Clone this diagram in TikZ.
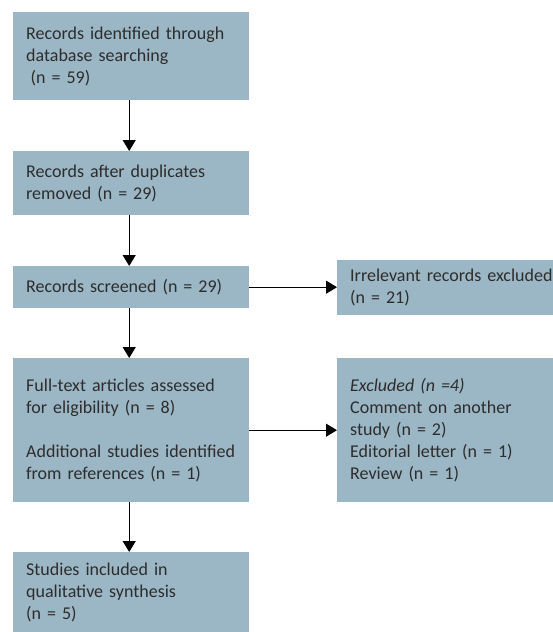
\documentclass[tikz,border=0pt]{standalone}
\usepackage{fontspec}
\setmainfont{Carlito}
\usetikzlibrary{arrows.meta,positioning}
\definecolor{BoxColor}{RGB}{155,182,196}
\definecolor{TextGray}{RGB}{45,45,45}
\tikzset{
  flowbox/.style={fill=BoxColor, text=TextGray, anchor=north west, align=left,
    inner xsep=13pt, inner ysep=0pt, font=\fontsize{18}{22}\selectfont},
  leftbox/.style={flowbox, text width=210pt},
  rightbox/.style={flowbox, text width=220pt},
  flowarrow/.style={-{Triangle[length=11pt,width=13pt]}, line width=1.2pt}
}
\begin{document}
\begin{tikzpicture}[x=1pt,y=-1pt]
        \useasboundingbox (0,0) rectangle (553,632);
        \node[leftbox, minimum height=88pt] (identified) at (13,12) {Records identified through\\database searching\\\hspace{0.25em}(n = 59)};
        \node[leftbox, minimum height=64pt] (duplicates) at (13,151) {Records after duplicates\\removed (n = 29)};
        \node[leftbox, minimum height=42pt] (screened) at (13,266) {Records screened (n = 29)};
        \node[leftbox, minimum height=144pt] (fulltext) at (13,358) {Full-text articles assessed\\for eligibility (n = 8)\\[22pt]Additional studies identified\\from references (n = 1)};
        \node[leftbox, minimum height=80pt] (included) at (13,552) {Studies included in\\qualitative synthesis\\(n = 5)};
        \node[rightbox, minimum height=55pt] (irrelevant) at (337,260) {Irrelevant records excluded\\(n = 21)};
        \node[rightbox, minimum height=144pt] (excluded) at (337,358) {\textit{Excluded (n =4)}\\Comment on another\\study (n = 2)\\Editorial letter (n = 1)\\Review (n = 1)};
        \draw[flowarrow] ([xshift=-2pt]identified.south) -- ([xshift=-2pt]duplicates.north);
        \draw[flowarrow] ([xshift=-2pt]duplicates.south) -- ([xshift=-2pt]screened.north);
        \draw[flowarrow] ([xshift=-2pt]screened.south) -- ([xshift=-2pt]fulltext.north);
        \draw[flowarrow] ([xshift=-2pt]fulltext.south) -- ([xshift=-2pt]included.north);
        \draw[flowarrow] (screened.east) -- (screened.east -| irrelevant.west);
        \draw[flowarrow] (fulltext.east) -- (fulltext.east -| excluded.west);
      \end{tikzpicture}
\end{document}
